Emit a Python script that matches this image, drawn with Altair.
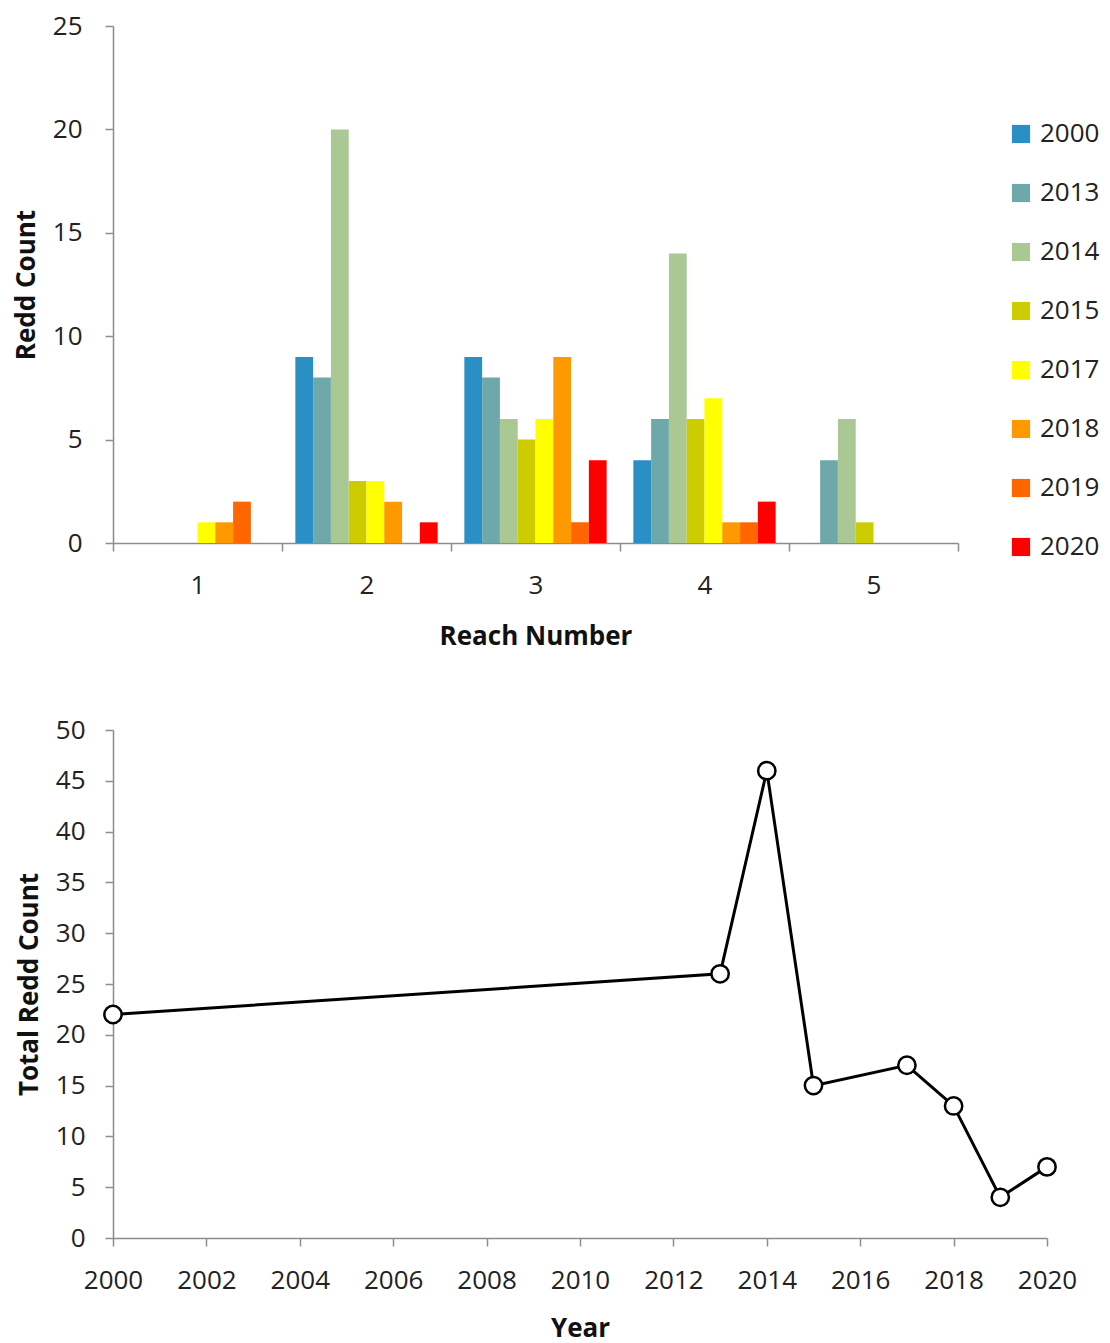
import altair as alt
import pandas as pd

years = ["2000", "2013", "2014", "2015", "2017", "2018", "2019", "2020"]
colors = ["#2a8fc4", "#6fa8ab", "#a9c893", "#cccc00", "#ffff00", "#ff9900", "#ff6600", "#ff0000"]
reaches = [1, 2, 3, 4, 5]
# counts[year] = values for reaches 1..5
counts = {
    "2000": [0, 9, 9, 4, 0],
    "2013": [0, 8, 8, 6, 4],
    "2014": [0, 20, 6, 14, 6],
    "2015": [0, 3, 5, 6, 1],
    "2017": [1, 3, 6, 7, 0],
    "2018": [1, 2, 9, 1, 0],
    "2019": [2, 0, 1, 1, 0],
    "2020": [0, 1, 4, 2, 0],
}
total_years = [2000, 2013, 2014, 2015, 2017, 2018, 2019, 2020]
totals = [22, 26, 46, 15, 17, 13, 4, 7]

rows = []
for y in years:
    for r, v in zip(reaches, counts[y]):
        rows.append({"reach": r, "year": y, "count": v})
bar_df = pd.DataFrame(rows)
line_df = pd.DataFrame({"year": total_years, "total": totals})

FONT = "Open Sans"
AXC = "#8c8c8c"
LS = 26

bars = alt.Chart(bar_df).mark_bar().encode(
    x=alt.X("reach:O", title="Reach Number",
            scale=alt.Scale(paddingInner=0, paddingOuter=0),
            axis=alt.Axis(tickBand="extent", labelAngle=0, labelPadding=21,
                          titlePadding=25)),
    xOffset=alt.XOffset("year:N", scale=alt.Scale(domain=years, paddingOuter=0.75, paddingInner=0)),
    y=alt.Y("count:Q", title="Redd Count",
            scale=alt.Scale(domain=[0, 25]),
            axis=alt.Axis(values=[0, 5, 10, 15, 20, 25], labelPadding=23, titlePadding=13)),
    color=alt.Color("year:N", title=None,
                    scale=alt.Scale(domain=years, range=colors),
                    legend=alt.Legend(orient="none", legendX=895, legendY=95,
                                      symbolType="square", symbolSize=330,
                                      symbolStrokeWidth=0,
                                      labelFontSize=LS, labelFont=FONT, labelColor="#222",
                                      rowPadding=33, labelOffset=6)),
).properties(width=845, height=517)

line = alt.Chart(line_df).mark_line(color="black", strokeWidth=3).encode(
    x=alt.X("year:Q", title="Year",
            scale=alt.Scale(domain=[2000, 2020], nice=False, zero=False),
            axis=alt.Axis(values=list(range(2000, 2021, 2)), format="d",
                          labelFlush=False, labelOverlap=False,
                          labelPadding=21, titlePadding=22)),
    y=alt.Y("total:Q", title="Total Redd Count",
            scale=alt.Scale(domain=[0, 50]),
            axis=alt.Axis(values=list(range(0, 51, 5)), labelPadding=20, titlePadding=13)),
)
pts = alt.Chart(line_df).mark_point(filled=True, fill="white", stroke="black",
                                    strokeWidth=2.5, size=300, opacity=1).encode(
    x="year:Q", y="total:Q")
bottom = alt.layer(line, pts).properties(width=934, height=508)

chart = alt.vconcat(bars, bottom, spacing=68).resolve_scale(color="independent").configure(
    padding={"top": 5, "left": 5, "right": 0, "bottom": 5}, background="white"
).configure_view(stroke=None).configure_axis(
    grid=False, domainColor=AXC, tickColor=AXC, domainWidth=1.5, tickWidth=1.5,
    tickSize=8, labelFont=FONT, labelFontSize=LS, labelColor="#222",
    titleFont=FONT, titleFontSize=LS, titleFontWeight="bold", titleColor="#111",
)

chart.save("out.html", embed_options={"renderer": "svg", "actions": False})
